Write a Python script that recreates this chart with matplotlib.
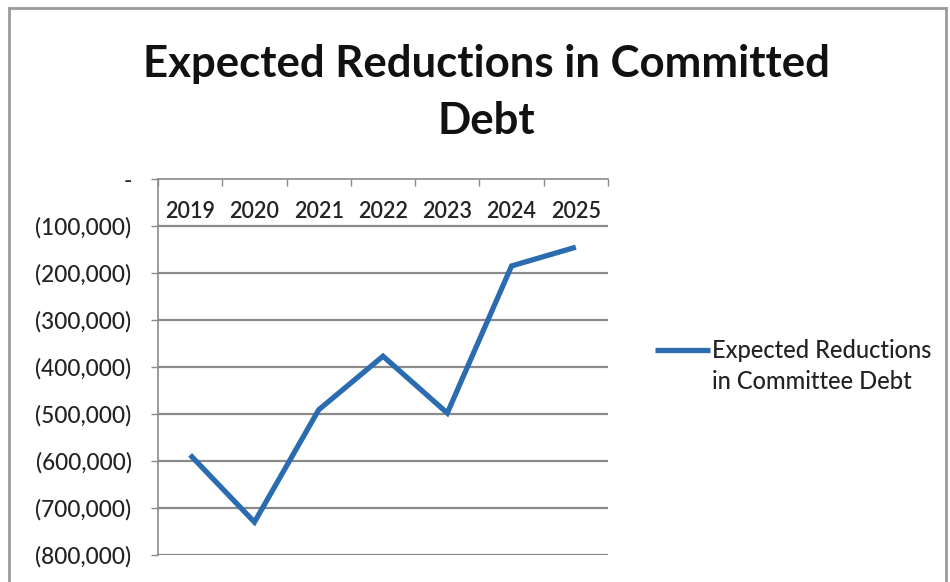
import matplotlib
matplotlib.use("Agg")
import matplotlib.pyplot as plt
from matplotlib.lines import Line2D
from matplotlib.legend_handler import HandlerLine2D
from matplotlib.ticker import FixedLocator, FuncFormatter

years = ["2019", "2020", "2021", "2022", "2023", "2024", "2025"]
reductions = [-587000, -730000, -491000, -377000, -498000, -185000, -145000]
series_name = "Expected Reductions\nin Committee Debt"
title = "Expected Reductions in Committed\nDebt"

plt.rcParams["font.family"] = ["Lato", "DejaVu Sans"]

W, H = 950, 582
fig = plt.figure(figsize=(W / 100, H / 100), dpi=100)
fig.patch.set_facecolor("white")

# plot area
left, right, top, bottom = 158, 608, 179, 555
ax = fig.add_axes([left / W, 1 - bottom / H, (right - left) / W, (bottom - top) / H])

line_color = "#2b6cb0"
grid_color = "#8a8a8a"
text_color = "#222222"

x = list(range(len(years)))
ln, = ax.plot(x, reductions, color=line_color, lw=3.8, solid_joinstyle="miter",
              solid_capstyle="butt", zorder=3)

ax.set_xlim(-0.5, len(years) - 0.5)
ax.set_ylim(-800000, 0)

# y axis
yticks = list(range(-800000, 1, 100000))
ax.yaxis.set_major_locator(FixedLocator(yticks))


def fmt(v, pos):
    if v == 0:
        return "-"
    return "({:,.0f})".format(abs(v))


ax.yaxis.set_major_formatter(FuncFormatter(fmt))
ax.tick_params(axis="y", direction="out", length=5, width=1, color=grid_color,
               labelsize=16.3, labelcolor=text_color, pad=14)
for lab in ax.get_yticklabels():
    lab.set_fontweight("medium")
for t in yticks:
    if t != 0:
        ax.axhline(t, color=grid_color, lw=1.6, zorder=1)

# category axis along y = 0, labels hanging below it
ax.set_xticks(x)
ax.set_xticklabels(years)
ax.set_xticks([i - 0.5 for i in range(len(years) + 1)], minor=True)
ax.xaxis.set_ticks_position("top")
ax.tick_params(axis="x", which="major", length=0, top=True, bottom=False,
               labeltop=True, labelbottom=False, labelsize=15.5,
               labelcolor=text_color, pad=-31)
ax.tick_params(axis="x", which="minor", direction="in", length=5, width=1,
               color=grid_color, top=True, bottom=False)
for lab in ax.get_xticklabels():
    lab.set_fontweight("semibold")

for s in ("right", "bottom"):
    ax.spines[s].set_visible(False)
for s in ("left", "top"):
    ax.spines[s].set_color(grid_color)
    ax.spines[s].set_linewidth(1.2)


class FirstLineHandler(HandlerLine2D):
    """Legend line placed level with the first line of a two-line label."""

    def __init__(self, shift, **kw):
        super().__init__(**kw)
        self.shift = shift

    def create_artists(self, legend, orig_handle, xdescent, ydescent, width,
                       height, fontsize, trans):
        arts = super().create_artists(legend, orig_handle, xdescent, ydescent,
                                      width, height, fontsize, trans)
        for a in arts:
            a.set_ydata([y + self.shift for y in a.get_ydata()])
        return arts


leg = fig.legend([ln], [series_name], loc="upper left",
                 bbox_to_anchor=(655 / W, 1 - 339 / H), frameon=False,
                 fontsize=17, handlelength=2.35, handletextpad=0.08,
                 borderaxespad=0, borderpad=0,
                 handler_map={ln: FirstLineHandler(shift=12)})
for t in leg.get_texts():
    t.set_color(text_color)
    t.set_linespacing(1.4)
    t.set_fontweight("medium")

# title
fig.text(486 / W, 1 - 44 / H, title, ha="center", va="top", fontsize=31.5,
         fontweight="bold", color="#111111", linespacing=1.5)

# chart border
bc = "#9a9a9a"
fig.add_artist(Line2D([9 / W, 9 / W], [0, 1 - 8 / H], color=bc, lw=2,
                      transform=fig.transFigure))
fig.add_artist(Line2D([9 / W, 946 / W], [1 - 8 / H, 1 - 8 / H], color=bc, lw=2,
                      transform=fig.transFigure))
fig.add_artist(Line2D([946 / W, 946 / W], [0, 1 - 8 / H], color=bc, lw=2,
                      transform=fig.transFigure))

fig.savefig("out.png", dpi=100, facecolor="white")
